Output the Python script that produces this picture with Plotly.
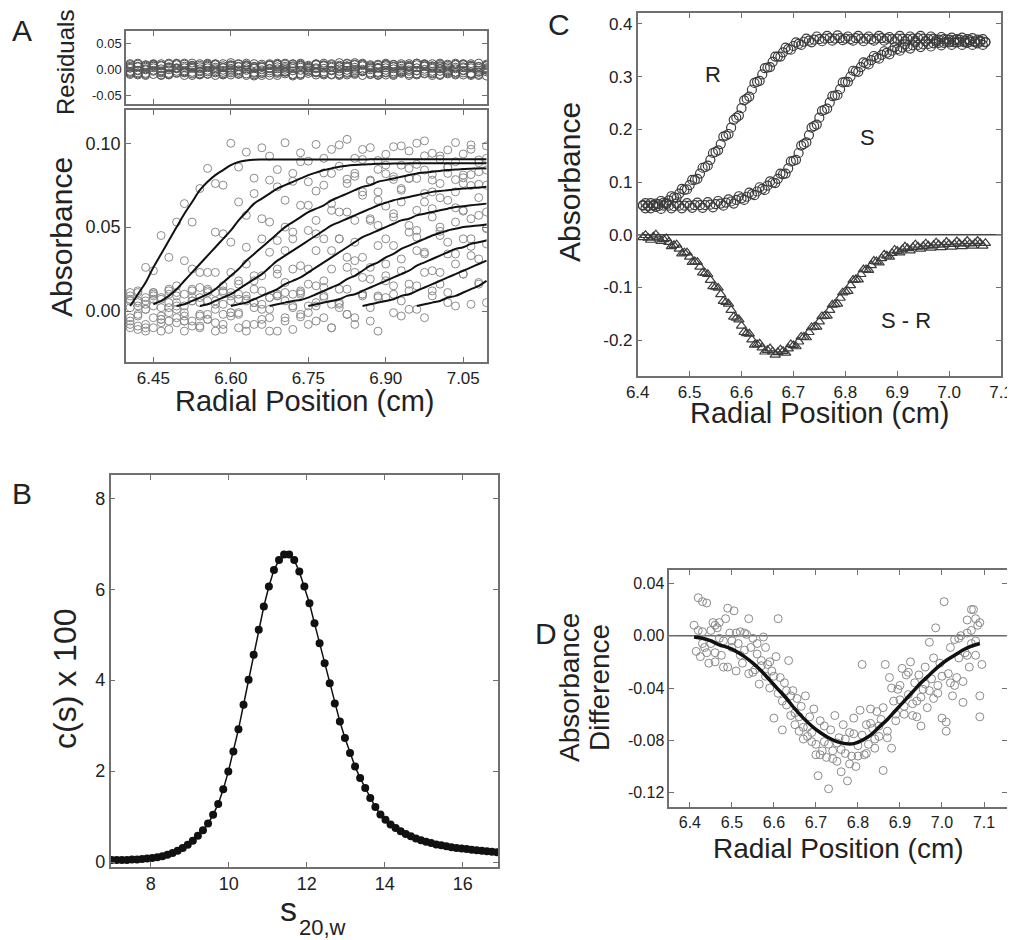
import plotly.graph_objects as go

FONT = "Liberation Sans, Arial, Helvetica, sans-serif"
INK = "#222222"
AXC = "#707070"

# ---------------- Panel A: sedimentation velocity scans ----------------
A_X = [6.405, 6.420, 6.435, 6.450, 6.465, 6.480, 6.495, 6.510, 6.525, 6.540,
       6.555, 6.570, 6.585, 6.600, 6.615, 6.630, 6.645, 6.660, 6.675, 6.690,
       6.705, 6.720, 6.735, 6.750, 6.765, 6.780, 6.795, 6.810, 6.825, 6.840,
       6.855, 6.870, 6.885, 6.900, 6.915, 6.930, 6.945, 6.960, 6.975, 6.990,
       7.005, 7.020, 7.035, 7.050, 7.065, 7.080, 7.095]

A_FIT_1 = [0.003, 0.010, 0.017, 0.026, 0.034, 0.042, 0.050, 0.058, 0.065, 0.072,
           0.077, 0.081, 0.084, 0.087, 0.0888, 0.0897, 0.0902, 0.0903, 0.0903, 0.0903,
           0.0903, 0.0903, 0.0903, 0.0903, 0.0903, 0.0903, 0.0903, 0.0903, 0.0903, 0.0903,
           0.0903, 0.0904, 0.0904, 0.0904, 0.0904, 0.0904, 0.0904, 0.0904, 0.0904, 0.0904,
           0.0904, 0.0904, 0.0904, 0.0904, 0.0904, 0.0904, 0.0904]
A_FIT_2 = [0.000, 0.001, 0.002, 0.004, 0.006, 0.009, 0.013, 0.018, 0.023, 0.028,
           0.033, 0.038, 0.043, 0.048, 0.054, 0.059, 0.064, 0.067, 0.070, 0.073,
           0.075, 0.077, 0.079, 0.081, 0.0825, 0.084, 0.085, 0.086, 0.0866, 0.087,
           0.0873, 0.0875, 0.0877, 0.0878, 0.0879, 0.0879, 0.088, 0.088, 0.088, 0.088,
           0.088, 0.088, 0.088, 0.088, 0.088, 0.088, 0.088]
A_FIT_3 = [0.000, 0.000, 0.000, 0.001, 0.001, 0.002, 0.003, 0.004, 0.006, 0.008,
           0.010, 0.013, 0.017, 0.021, 0.025, 0.030, 0.034, 0.038, 0.042, 0.046,
           0.050, 0.053, 0.056, 0.059, 0.061, 0.063, 0.066, 0.068, 0.070, 0.072,
           0.074, 0.075, 0.077, 0.078, 0.079, 0.080, 0.081, 0.082, 0.0825, 0.083,
           0.0835, 0.084, 0.0843, 0.0846, 0.0848, 0.085, 0.085]
A_FIT_4 = [0.000, 0.000, 0.000, 0.000, 0.000, 0.000, 0.001, 0.001, 0.002, 0.003,
           0.004, 0.006, 0.008, 0.010, 0.013, 0.016, 0.019, 0.022, 0.026, 0.030,
           0.033, 0.036, 0.039, 0.042, 0.045, 0.048, 0.051, 0.053, 0.055, 0.057,
           0.059, 0.061, 0.063, 0.0645, 0.066, 0.067, 0.068, 0.069, 0.070, 0.071,
           0.0715, 0.072, 0.0725, 0.073, 0.0733, 0.0736, 0.074]
A_FIT_5 = [0.000, 0.000, 0.000, 0.000, 0.000, 0.000, 0.000, 0.000, 0.001, 0.001,
           0.001, 0.002, 0.002, 0.003, 0.004, 0.005, 0.007, 0.009, 0.011, 0.013,
           0.016, 0.018, 0.020, 0.023, 0.026, 0.029, 0.032, 0.035, 0.038, 0.041,
           0.044, 0.046, 0.048, 0.050, 0.052, 0.054, 0.055, 0.057, 0.058, 0.059,
           0.060, 0.061, 0.062, 0.0625, 0.063, 0.0635, 0.064]
A_FIT_6 = [0.000, 0.000, 0.000, 0.000, 0.000, 0.000, 0.000, 0.000, 0.000, 0.000,
           0.000, 0.000, 0.001, 0.001, 0.001, 0.001, 0.002, 0.002, 0.003, 0.004,
           0.005, 0.006, 0.0065, 0.008, 0.010, 0.012, 0.014, 0.016, 0.019, 0.021,
           0.024, 0.027, 0.029, 0.032, 0.034, 0.037, 0.039, 0.041, 0.043, 0.045,
           0.0465, 0.048, 0.049, 0.050, 0.0505, 0.051, 0.0515]
A_FIT_7 = [0.000, 0.000, 0.000, 0.000, 0.000, 0.000, 0.000, 0.000, 0.000, 0.000,
           0.000, 0.000, 0.000, 0.000, 0.000, 0.000, 0.000, 0.000, 0.000, 0.000,
           0.000, 0.000, 0.002, 0.003, 0.004, 0.005, 0.006, 0.007, 0.009, 0.010,
           0.012, 0.014, 0.016, 0.018, 0.020, 0.022, 0.024, 0.027, 0.029, 0.031,
           0.033, 0.035, 0.037, 0.038, 0.040, 0.041, 0.042]
A_FIT_8 = [0.000, 0.000, 0.000, 0.000, 0.000, 0.000, 0.000, 0.000, 0.000, 0.000,
           0.000, 0.000, 0.000, 0.000, 0.000, 0.000, 0.000, 0.000, 0.000, 0.000,
           0.000, 0.000, 0.000, 0.000, 0.000, 0.000, 0.001, 0.001, 0.002, 0.002,
           0.003, 0.004, 0.005, 0.006, 0.007, 0.009, 0.010, 0.012, 0.014, 0.016,
           0.018, 0.020, 0.022, 0.024, 0.026, 0.028, 0.030]
A_FIT_9 = [0.000, 0.000, 0.000, 0.000, 0.000, 0.000, 0.000, 0.000, 0.000, 0.000,
           0.000, 0.000, 0.000, 0.000, 0.000, 0.000, 0.000, 0.000, 0.000, 0.000,
           0.000, 0.000, 0.000, 0.000, 0.000, 0.000, 0.000, 0.000, 0.000, 0.000,
           0.000, 0.000, 0.000, 0.001, 0.001, 0.002, 0.002, 0.003, 0.004, 0.005,
           0.006, 0.008, 0.009, 0.011, 0.013, 0.015, 0.018]

A_RES_1 = [0.004, -0.007, 0.009, -0.002, 0.011, -0.010, 0.003, 0.006, -0.012, 0.001,
           0.008, -0.005, -0.009, 0.013, -0.003, 0.005, -0.011, 0.007, 0.002, -0.006,
           0.010, -0.013, 0.004, -0.001, 0.009, -0.008, 0.006, -0.004, 0.012, -0.010,
           0.000, 0.007, -0.006, 0.003, -0.012, 0.008, 0.005, -0.003, 0.011, -0.009,
           0.002, -0.005, 0.010, -0.011, 0.006, -0.002, 0.008]
A_RES_2 = [-0.006, 0.010, -0.001, 0.007, -0.011, 0.004, -0.008, 0.012, 0.002, -0.005,
           -0.010, 0.009, 0.003, -0.007, 0.011, -0.002, 0.006, -0.012, 0.008, 0.001,
           -0.009, 0.005, 0.010, -0.004, -0.011, 0.007, -0.003, 0.013, -0.008, 0.004,
           0.009, -0.010, 0.002, -0.006, 0.010, -0.001, -0.009, 0.012, -0.004, 0.006,
           -0.012, 0.008, 0.001, -0.007, 0.011, -0.005, 0.003]
A_RES_3 = [0.009, -0.003, -0.010, 0.006, 0.001, -0.008, 0.012, -0.005, 0.007, -0.011,
           0.003, 0.010, -0.006, 0.002, -0.009, 0.008, -0.013, 0.005, 0.011, -0.004,
           0.000, -0.010, 0.007, 0.004, -0.007, 0.012, -0.002, -0.009, 0.006, 0.010,
           -0.005, 0.003, -0.011, 0.009, 0.001, -0.008, 0.004, -0.003, 0.010, -0.012,
           0.007, 0.002, -0.006, 0.009, -0.010, 0.005, -0.001]
A_RES_4 = [-0.010, 0.005, 0.008, -0.004, -0.012, 0.010, 0.002, -0.007, 0.004, 0.011,
           -0.009, -0.002, 0.007, -0.011, 0.005, 0.012, -0.006, -0.001, 0.009, -0.008,
           0.003, 0.011, -0.012, 0.006, 0.001, -0.005, 0.009, -0.010, 0.004, -0.003,
           0.012, -0.007, 0.008, -0.002, -0.010, 0.006, 0.011, -0.009, 0.000, 0.007,
           -0.004, 0.010, -0.011, 0.003, 0.008, -0.006, 0.001]
A_RES_5 = [0.002, -0.009, 0.006, 0.011, -0.005, -0.001, 0.009, -0.012, 0.005, -0.003,
           0.010, 0.004, -0.010, 0.008, -0.006, 0.001, 0.011, -0.008, -0.003, 0.012,
           -0.005, 0.007, -0.009, 0.002, 0.010, -0.011, 0.004, 0.008, -0.006, 0.000,
           -0.012, 0.009, 0.003, -0.007, 0.006, 0.011, -0.004, -0.009, 0.007, 0.002,
           -0.010, 0.005, 0.009, -0.003, -0.008, 0.012, -0.005]
A_RES_6 = [-0.004, 0.012, -0.008, 0.003, 0.007, -0.011, 0.001, 0.010, -0.006, 0.008,
           -0.002, -0.012, 0.011, -0.004, 0.006, -0.009, 0.003, 0.010, -0.007, 0.005,
           0.012, -0.003, -0.010, 0.008, -0.005, 0.002, 0.011, -0.012, 0.007, 0.009,
           -0.004, -0.001, 0.010, -0.011, 0.005, -0.006, 0.008, 0.003, -0.009, 0.011,
           0.001, -0.007, 0.004, 0.010, -0.012, 0.006, -0.002]
A_RES_7 = [0.011, -0.002, 0.004, -0.010, 0.008, 0.005, -0.007, -0.003, 0.012, -0.009,
           0.006, 0.001, -0.011, 0.009, -0.001, 0.007, -0.008, 0.004, -0.012, 0.010,
           -0.006, 0.002, 0.008, -0.004, 0.011, -0.009, -0.002, 0.006, -0.011, 0.013,
           -0.003, 0.005, -0.008, 0.010, -0.005, 0.002, -0.012, 0.009, 0.006, -0.007,
           0.012, -0.001, -0.009, 0.005, 0.003, -0.010, 0.007]
A_RES_8 = [-0.008, 0.006, -0.012, 0.010, -0.003, 0.002, 0.011, -0.006, -0.009, 0.005,
           0.012, -0.007, 0.004, -0.001, -0.010, 0.009, 0.002, -0.005, 0.008, -0.012,
           0.006, 0.010, -0.002, -0.008, 0.003, 0.009, -0.011, 0.001, 0.011, -0.006,
           0.007, -0.010, 0.004, 0.012, -0.008, -0.003, 0.006, -0.011, 0.009, -0.004,
           0.005, -0.009, 0.012, -0.002, 0.007, -0.012, 0.010]
A_RES_9 = [0.006, -0.011, 0.001, 0.009, -0.007, 0.012, -0.004, 0.003, 0.008, -0.010,
           -0.005, 0.011, -0.002, 0.006, 0.010, -0.012, 0.005, -0.008, 0.001, 0.009,
           -0.004, -0.011, 0.012, 0.003, -0.006, 0.008, -0.010, 0.005, -0.002, -0.008,
           0.010, 0.002, -0.012, 0.007, 0.009, -0.005, -0.001, 0.012, -0.008, 0.004,
           0.010, -0.003, -0.006, 0.011, -0.009, 0.002, -0.013]

A_FITS = [A_FIT_1, A_FIT_2, A_FIT_3, A_FIT_4, A_FIT_5, A_FIT_6, A_FIT_7, A_FIT_8, A_FIT_9]
A_RESIDS = [A_RES_1, A_RES_2, A_RES_3, A_RES_4, A_RES_5, A_RES_6, A_RES_7, A_RES_8, A_RES_9]

A_XTICKS = [6.45, 6.60, 6.75, 6.90, 7.05]
A_XTICKTEXT = ["6.45", "6.60", "6.75", "6.90", "7.05"]
A_YTICKS = [0.00, 0.05, 0.10]
A_YTICKTEXT = ["0.00", "0.05", "0.10"]
A_RTICKS = [-0.05, 0.00, 0.05]
A_RTICKTEXT = ["-0.05", "0.00", "0.05"]

# ---------------- Panel C: R, S and S - R boundaries ----------------
C_X = [6.41, 6.42, 6.43, 6.44, 6.45, 6.46, 6.47, 6.48, 6.49, 6.50,
       6.51, 6.52, 6.53, 6.54, 6.55, 6.56, 6.57, 6.58, 6.59, 6.60,
       6.61, 6.62, 6.63, 6.64, 6.65, 6.66, 6.67, 6.68, 6.69, 6.70,
       6.71, 6.72, 6.73, 6.74, 6.75, 6.76, 6.77, 6.78, 6.79, 6.80,
       6.81, 6.82, 6.83, 6.84, 6.85, 6.86, 6.87, 6.88, 6.89, 6.90,
       6.91, 6.92, 6.93, 6.94, 6.95, 6.96, 6.97, 6.98, 6.99, 7.00,
       7.01, 7.02, 7.03, 7.04, 7.05, 7.06, 7.07]
C_R = [0.055, 0.054, 0.056, 0.058, 0.061, 0.065, 0.071, 0.078, 0.085, 0.094,
       0.104, 0.116, 0.128, 0.142, 0.157, 0.172, 0.188, 0.203, 0.222, 0.240,
       0.258, 0.275, 0.290, 0.304, 0.317, 0.328, 0.338, 0.346, 0.352, 0.358,
       0.362, 0.366, 0.368, 0.370, 0.371, 0.372, 0.373, 0.372, 0.373, 0.372,
       0.371, 0.373, 0.372, 0.372, 0.371, 0.372, 0.373, 0.372, 0.371, 0.372,
       0.372, 0.371, 0.372, 0.373, 0.372, 0.371, 0.372, 0.370, 0.371, 0.370,
       0.369, 0.370, 0.368, 0.369, 0.367, 0.368, 0.366]
C_S = [0.056, 0.055, 0.055, 0.054, 0.055, 0.055, 0.054, 0.055, 0.055, 0.055,
       0.056, 0.056, 0.056, 0.057, 0.058, 0.059, 0.061, 0.063, 0.066, 0.069,
       0.072, 0.077, 0.082, 0.087, 0.093, 0.099, 0.106, 0.115, 0.126, 0.140,
       0.155, 0.172, 0.189, 0.206, 0.222, 0.237, 0.251, 0.264, 0.276, 0.290,
       0.300, 0.310, 0.318, 0.325, 0.331, 0.336, 0.341, 0.345, 0.349, 0.352,
       0.355, 0.357, 0.359, 0.360, 0.361, 0.362, 0.363, 0.364, 0.364, 0.365,
       0.365, 0.366, 0.365, 0.366, 0.365, 0.366, 0.365]
C_SR = [-0.005, -0.006, -0.004, -0.006, -0.009, -0.014, -0.020, -0.027, -0.034, -0.042,
        -0.051, -0.061, -0.073, -0.086, -0.099, -0.113, -0.128, -0.143, -0.158, -0.173,
        -0.187, -0.199, -0.208, -0.214, -0.219, -0.222, -0.223, -0.221, -0.216, -0.210,
        -0.203, -0.194, -0.185, -0.175, -0.165, -0.154, -0.143, -0.132, -0.120, -0.108,
        -0.096, -0.085, -0.075, -0.066, -0.058, -0.051, -0.045, -0.040, -0.035, -0.031,
        -0.028, -0.026, -0.024, -0.023, -0.022, -0.021, -0.020, -0.019, -0.019, -0.018,
        -0.018, -0.017, -0.017, -0.017, -0.016, -0.016, -0.016]
# readings between the points above
C_X_MID = [6.415, 6.425, 6.435, 6.445, 6.455, 6.465, 6.475, 6.485, 6.495, 6.505,
           6.515, 6.525, 6.535, 6.545, 6.555, 6.565, 6.575, 6.585, 6.595, 6.605,
           6.615, 6.625, 6.635, 6.645, 6.655, 6.665, 6.675, 6.685, 6.695, 6.705,
           6.715, 6.725, 6.735, 6.745, 6.755, 6.765, 6.775, 6.785, 6.795, 6.805,
           6.815, 6.825, 6.835, 6.845, 6.855, 6.865, 6.875, 6.885, 6.895, 6.905,
           6.915, 6.925, 6.935, 6.945, 6.955, 6.965, 6.975, 6.985, 6.995, 7.005,
           7.015, 7.025, 7.035, 7.045, 7.055, 7.065]
C_R_MID = [0.050, 0.060, 0.053, 0.064, 0.058, 0.073, 0.070, 0.087, 0.086, 0.104,
           0.106, 0.127, 0.131, 0.155, 0.160, 0.186, 0.191, 0.218, 0.226, 0.255,
           0.262, 0.288, 0.292, 0.316, 0.318, 0.338, 0.338, 0.355, 0.351, 0.365,
           0.360, 0.372, 0.365, 0.376, 0.367, 0.377, 0.368, 0.378, 0.369, 0.376,
           0.368, 0.377, 0.367, 0.376, 0.368, 0.377, 0.368, 0.375, 0.367, 0.377,
           0.367, 0.376, 0.368, 0.377, 0.367, 0.376, 0.366, 0.375, 0.366, 0.374,
           0.365, 0.374, 0.364, 0.373, 0.363, 0.371]
C_S_MID = [0.060, 0.050, 0.059, 0.049, 0.060, 0.050, 0.059, 0.050, 0.060, 0.051,
           0.061, 0.051, 0.062, 0.052, 0.064, 0.055, 0.067, 0.059, 0.073, 0.066,
           0.080, 0.075, 0.090, 0.085, 0.101, 0.098, 0.116, 0.116, 0.139, 0.142,
           0.169, 0.175, 0.203, 0.209, 0.235, 0.239, 0.263, 0.265, 0.289, 0.290,
           0.311, 0.309, 0.327, 0.323, 0.339, 0.334, 0.348, 0.342, 0.356, 0.349,
           0.361, 0.353, 0.365, 0.356, 0.367, 0.357, 0.369, 0.359, 0.370, 0.360,
           0.371, 0.360, 0.371, 0.360, 0.370, 0.360]
C_SR_MID = [-0.001, -0.010, 0.000, -0.012, -0.007, -0.022, -0.019, -0.036, -0.034, -0.052,
            -0.052, -0.072, -0.075, -0.098, -0.101, -0.126, -0.131, -0.156, -0.161, -0.185,
            -0.188, -0.209, -0.207, -0.222, -0.216, -0.228, -0.218, -0.224, -0.208, -0.212,
            -0.194, -0.195, -0.176, -0.175, -0.155, -0.154, -0.133, -0.131, -0.110, -0.107,
            -0.086, -0.085, -0.066, -0.067, -0.050, -0.053, -0.038, -0.042, -0.029, -0.034,
            -0.023, -0.030, -0.019, -0.027, -0.017, -0.025, -0.015, -0.024, -0.014, -0.023,
            -0.013, -0.022, -0.012, -0.021, -0.012, -0.021]
C_XTICKS = [6.4, 6.5, 6.6, 6.7, 6.8, 6.9, 7.0, 7.1]
C_XTICKTEXT = ["6.4", "6.5", "6.6", "6.7", "6.8", "6.9", "7.0", "7.1"]
C_YTICKS = [-0.2, -0.1, 0.0, 0.1, 0.2, 0.3, 0.4]
C_YTICKTEXT = ["-0.2", "-0.1", "0.0", "0.1", "0.2", "0.3", "0.4"]

# ---------------- Panel B: c(s) distribution ----------------
B_S = [7.00, 7.13, 7.26, 7.39, 7.52, 7.65, 7.78, 7.91, 8.04, 8.17,
       8.30, 8.43, 8.56, 8.69, 8.82, 8.95, 9.08, 9.21, 9.34, 9.47,
       9.60, 9.73, 9.86, 9.99, 10.12, 10.25, 10.38, 10.51, 10.64, 10.77,
       10.90, 11.03, 11.16, 11.29, 11.42, 11.55, 11.68, 11.81, 11.94, 12.07,
       12.20, 12.33, 12.46, 12.59, 12.72, 12.85, 12.98, 13.11, 13.24, 13.37,
       13.50, 13.63, 13.76, 13.89, 14.02, 14.15, 14.28, 14.41, 14.54, 14.67,
       14.80, 14.93, 15.06, 15.19, 15.32, 15.45, 15.58, 15.71, 15.84, 15.97,
       16.10, 16.23, 16.36, 16.49, 16.62, 16.75, 16.88, 17.01]
B_CS = [0.05, 0.05, 0.05, 0.05, 0.06, 0.06, 0.07, 0.08, 0.09, 0.11,
        0.13, 0.16, 0.20, 0.25, 0.31, 0.38, 0.47, 0.58, 0.70, 0.85,
        1.04, 1.28, 1.60, 1.99, 2.43, 2.92, 3.46, 4.01, 4.56, 5.11,
        5.62, 6.06, 6.42, 6.64, 6.76, 6.76, 6.64, 6.39, 6.06, 5.69,
        5.25, 4.81, 4.37, 3.93, 3.49, 3.09, 2.73, 2.40, 2.10, 1.85,
        1.63, 1.41, 1.21, 1.05, 0.93, 0.83, 0.75, 0.68, 0.62, 0.57,
        0.52, 0.48, 0.45, 0.42, 0.39, 0.37, 0.35, 0.33, 0.31, 0.30,
        0.29, 0.27, 0.26, 0.25, 0.24, 0.23, 0.22, 0.21]
B_XTICKS = [8, 10, 12, 14, 16]
B_XTICKTEXT = ["8", "10", "12", "14", "16"]
B_YTICKS = [0, 2, 4, 6, 8]
B_YTICKTEXT = ["0", "2", "4", "6", "8"]

# ---------------- Panel D: absorbance difference ----------------
D_X_GRID = [6.410, 6.415, 6.420, 6.425, 6.430, 6.435, 6.440, 6.445, 6.450, 6.455,
            6.460, 6.465, 6.470, 6.475, 6.480, 6.485, 6.490, 6.495, 6.500, 6.505,
            6.510, 6.515, 6.520, 6.525, 6.530, 6.535, 6.540, 6.545, 6.550, 6.555,
            6.560, 6.565, 6.570, 6.575, 6.580, 6.585, 6.590, 6.595, 6.600, 6.605,
            6.610, 6.615, 6.620, 6.625, 6.630, 6.635, 6.640, 6.645, 6.650, 6.655,
            6.660, 6.665, 6.670, 6.675, 6.680, 6.685, 6.690, 6.695, 6.700, 6.705,
            6.710, 6.715, 6.720, 6.725, 6.730, 6.735, 6.740, 6.745, 6.750, 6.755,
            6.760, 6.765, 6.770, 6.775, 6.780, 6.785, 6.790, 6.795, 6.800, 6.805,
            6.810, 6.815, 6.820, 6.825, 6.830, 6.835, 6.840, 6.845, 6.850, 6.855,
            6.860, 6.865, 6.870, 6.875, 6.880, 6.885, 6.890, 6.895, 6.900, 6.905,
            6.910, 6.915, 6.920, 6.925, 6.930, 6.935, 6.940, 6.945, 6.950, 6.955,
            6.960, 6.965, 6.970, 6.975, 6.980, 6.985, 6.990, 6.995, 7.000, 7.005,
            7.010, 7.015, 7.020, 7.025, 7.030, 7.035, 7.040, 7.045, 7.050, 7.055,
            7.060, 7.065, 7.070, 7.075, 7.080, 7.085, 7.090, 7.095]
D_Y_GRID = [0.008, -0.012, 0.004, -0.016, 0.003, -0.009, 0.025, -0.021, -0.006, 0.010,
            -0.013, 0.006, -0.002, -0.015, -0.004, 0.013, -0.024, 0.002, -0.009, 0.019,
            -0.027, -0.006, 0.003, -0.021, -0.011, 0.001, -0.029, -0.009, -0.002, -0.026,
            -0.014, -0.037, -0.019, -0.001, -0.031, -0.022, -0.040, -0.027, -0.063, -0.016,
            -0.044, -0.032, -0.072, -0.036, -0.053, -0.019, -0.061, -0.042, -0.068, -0.048,
            -0.073, -0.054, -0.070, -0.046, -0.077, -0.062, -0.081, -0.056, -0.091, -0.107,
            -0.065, -0.088, -0.081, -0.093, -0.117, -0.072, -0.088, -0.061, -0.096, -0.078,
            -0.104, -0.068, -0.090, -0.111, -0.074, -0.092, -0.063, -0.100, -0.084, -0.057,
            -0.022, -0.091, -0.068, -0.083, -0.056, -0.071, -0.086, -0.058, -0.077, -0.064,
            -0.103, -0.022, -0.073, -0.032, -0.086, -0.050, -0.065, -0.041, -0.049, -0.025,
            -0.060, -0.030, -0.045, -0.020, -0.061, -0.036, -0.050, -0.030, -0.069, -0.041,
            -0.024, -0.055, -0.005, -0.033, -0.048, 0.006, -0.038, -0.021, -0.063, 0.026,
            -0.073, -0.029, -0.009, -0.046, -0.003, -0.032, -0.017, 0.000, -0.051, -0.013,
            0.012, -0.024, 0.004, 0.020, -0.015, 0.008, -0.062, -0.022]
D_X_EXTRA = [6.42, 6.43, 6.43, 6.44, 6.45, 6.46, 6.46, 6.47, 6.48, 6.49,
             6.50, 6.51, 6.52, 6.53, 6.54, 6.55, 6.56, 6.57, 6.58, 6.59,
             6.60, 6.61, 6.62, 6.63, 6.64, 6.65, 6.66, 6.67, 6.68, 6.69,
             6.70, 6.71, 6.72, 6.73, 6.74, 6.75, 6.76, 6.77, 6.78, 6.79,
             6.80, 6.81, 6.82, 6.83, 6.84, 6.85, 6.86, 6.87, 6.88, 6.89,
             6.90, 6.91, 6.92, 6.93, 6.94, 6.95, 6.96, 6.97, 6.98, 6.99,
             7.00, 7.01, 7.02, 7.03, 7.04, 7.05, 7.06, 7.07, 7.08, 7.09,
             7.08, 7.09, 7.06, 7.07]
D_Y_EXTRA = [0.029, -0.006, 0.026, -0.013, 0.004, 0.008, -0.020, 0.010, -0.024, 0.021,
             -0.004, 0.002, -0.015, 0.002, 0.013, -0.028, -0.006, -0.023, -0.009, -0.020,
             -0.031, 0.013, -0.050, -0.042, -0.046, -0.059, -0.062, -0.079, -0.070, -0.074,
             -0.083, -0.091, -0.069, -0.083, -0.094, -0.082, -0.087, -0.079, -0.098, -0.075,
             -0.092, -0.076, -0.090, -0.067, -0.079, -0.069, -0.055, -0.078, -0.040, -0.060,
             -0.038, -0.054, -0.028, -0.052, -0.062, -0.047, -0.037, -0.042, -0.017, -0.044,
             -0.031, -0.066, -0.036, -0.038, -0.002, -0.035, 0.002, -0.006, 0.013, 0.010,
             -0.004, -0.046, -0.015, 0.020]
D_FIT_X = [6.41, 6.43, 6.45, 6.47, 6.49, 6.51, 6.53, 6.55, 6.57, 6.59,
           6.61, 6.63, 6.65, 6.67, 6.69, 6.71, 6.73, 6.75, 6.77, 6.79,
           6.81, 6.83, 6.85, 6.87, 6.89, 6.91, 6.93, 6.95, 6.97, 6.99,
           7.01, 7.03, 7.05, 7.07, 7.09]
D_FIT_Y = [-0.001, -0.002, -0.004, -0.007, -0.009, -0.012, -0.016, -0.021, -0.027, -0.034,
           -0.041, -0.048, -0.056, -0.063, -0.069, -0.074, -0.078, -0.081, -0.0825, -0.0825,
           -0.080, -0.076, -0.070, -0.064, -0.057, -0.050, -0.043, -0.036, -0.030, -0.024,
           -0.019, -0.015, -0.011, -0.008, -0.006]
D_XTICKS = [6.4, 6.5, 6.6, 6.7, 6.8, 6.9, 7.0, 7.1]
D_XTICKTEXT = ["6.4", "6.5", "6.6", "6.7", "6.8", "6.9", "7.0", "7.1"]
D_YTICKS = [-0.12, -0.08, -0.04, 0.00, 0.04]
D_YTICKTEXT = ["-0.12", "-0.08", "-0.04", "0.00", "0.04"]

for f, r in zip(A_FITS, A_RESIDS):
    assert len(f) == len(A_X) and len(r) == len(A_X)
assert len(C_R) == len(C_X) == len(C_S) == len(C_SR)
assert len(C_X_MID) == len(C_R_MID) == len(C_S_MID) == len(C_SR_MID)
assert len(B_S) == len(B_CS)
assert len(D_X_GRID) == len(D_Y_GRID) and len(D_X_EXTRA) == len(D_Y_EXTRA)
assert len(D_FIT_X) == len(D_FIT_Y)

# ---- page geometry: the page body adds an 8 px margin around the figure ----
PAGE_OFF = 8
FIG_W, FIG_H = 1007, 932


def fx(p):
    return (p - PAGE_OFF) / FIG_W


def fy(p):
    return 1 - (p - PAGE_OFF) / FIG_H


def dom_x(left, right):
    return [fx(left), fx(right)]


def dom_y(top, bottom):
    return [fy(bottom), fy(top)]


fig = go.Figure()

# Panel A residuals (top strip) and data
for fit, res in zip(A_FITS, A_RESIDS):
    fig.add_trace(go.Scatter(x=A_X, y=res, mode="markers", xaxis="x", yaxis="y",
                             marker=dict(symbol="circle-open", size=8,
                                         color="#555555", line=dict(width=1))))
for fit, res in zip(A_FITS, A_RESIDS):
    obs = [f + r for f, r in zip(fit, res)]
    fig.add_trace(go.Scatter(x=A_X, y=obs, mode="markers", xaxis="x2", yaxis="y2",
                             marker=dict(symbol="circle-open", size=8,
                                         color="#8c8c8c", line=dict(width=1))))
for fit in A_FITS:
    yline = [v if v >= 0.003 else None for v in fit]
    fig.add_trace(go.Scatter(x=A_X, y=yline, mode="lines", xaxis="x2", yaxis="y2",
                             line=dict(color="#111111", width=2, shape="spline"),
                             connectgaps=False))

# Panel C
C_MARK = dict(symbol="circle-open", size=9, color="#3c3c3c", line=dict(width=1.2))
C_TRI = dict(symbol="triangle-up-open", size=9, color="#3c3c3c", line=dict(width=1.2))
for xs, ys, mk in [(C_X, C_R, C_MARK), (C_X_MID, C_R_MID, C_MARK),
                   (C_X, C_S, C_MARK), (C_X_MID, C_S_MID, C_MARK),
                   (C_X, C_SR, C_TRI), (C_X_MID, C_SR_MID, C_TRI)]:
    fig.add_trace(go.Scatter(x=xs, y=ys, mode="markers", xaxis="x3", yaxis="y3",
                             marker=mk))

# Panel B
fig.add_trace(go.Scatter(x=B_S, y=B_CS, mode="lines+markers", xaxis="x4", yaxis="y4",
                         line=dict(color="#111111", width=1.5),
                         marker=dict(symbol="circle", size=8, color="#111111")))

# Panel D
fig.add_trace(go.Scatter(x=D_X_GRID + D_X_EXTRA, y=D_Y_GRID + D_Y_EXTRA, mode="markers",
                         xaxis="x5", yaxis="y5",
                         marker=dict(symbol="circle-open", size=8, color="#8a8a8a",
                                     line=dict(width=1))))
fig.add_trace(go.Scatter(x=D_FIT_X, y=D_FIT_Y, mode="lines", xaxis="x5", yaxis="y5",
                         line=dict(color="#111111", width=3.5, shape="spline")))


def axis(domain, rng, tickvals, ticktext, anchor, show=True, fsize=18):
    return dict(domain=domain, range=rng, anchor=anchor, tickvals=tickvals,
                ticktext=ticktext, showticklabels=show, ticks="inside", ticklen=5,
                tickwidth=1.2, tickcolor=AXC, showline=True, linecolor=AXC,
                linewidth=1.5, mirror="ticks", showgrid=False, zeroline=False,
                automargin=False,
                tickfont=dict(family=FONT, size=fsize, color=INK), fixedrange=True)


AX_A = dom_x(126, 487)
fig.update_layout(
    template="none",
    width=FIG_W, height=FIG_H,
    margin=dict(l=0, r=0, t=0, b=0, pad=0, autoexpand=False),
    paper_bgcolor="white", plot_bgcolor="white", showlegend=False,
    font=dict(family=FONT, color=INK),
    xaxis=axis(AX_A, [6.397, 7.096], A_XTICKS, A_XTICKTEXT, "y", show=False),
    yaxis=axis(dom_y(31, 104), [-0.067, 0.074], A_RTICKS, A_RTICKTEXT, "x", fsize=13),
    xaxis2=axis(AX_A, [6.397, 7.096], A_XTICKS, A_XTICKTEXT, "y2", fsize=17),
    yaxis2=axis(dom_y(110, 362), [-0.0304, 0.1198], A_YTICKS, A_YTICKTEXT, "x2"),
    xaxis3=axis(dom_x(637.7, 1001), [6.4, 7.1], C_XTICKS, C_XTICKTEXT, "y3", fsize=17),
    yaxis3=axis(dom_y(13.3, 376), [-0.268, 0.42], C_YTICKS, C_YTICKTEXT, "x3", fsize=17),
    xaxis4=axis(dom_x(110.7, 498), [6.974, 16.905], B_XTICKS, B_XTICKTEXT, "y4"),
    yaxis4=axis(dom_y(475, 866.7), [-0.1, 8.51], B_YTICKS, B_YTICKTEXT, "x4"),
    xaxis5=axis(dom_x(669.3, 1006.7), [6.351, 7.154], D_XTICKS, D_XTICKTEXT, "y5", fsize=16),
    yaxis5=axis(dom_y(570, 806.7), [-0.1307, 0.0502], D_YTICKS, D_YTICKTEXT, "x5", fsize=16),
)

fig.add_shape(type="line", xref="x3 domain", yref="y3", x0=0, x1=1, y0=0, y1=0,
              line=dict(color="#444444", width=1.5), layer="below")
fig.add_shape(type="line", xref="x5 domain", yref="y5", x0=0, x1=1, y0=0, y1=0,
              line=dict(color="#666666", width=1.5), layer="below")


def label(text, px, py, size, angle=0):
    fig.add_annotation(text=text, x=fx(px), y=fy(py), xref="paper", yref="paper",
                       showarrow=False, textangle=angle, xanchor="center",
                       yanchor="middle", font=dict(family=FONT, size=size, color=INK))


def data_label(text, x, y, size):
    fig.add_annotation(text=text, x=x, y=y, xref="x3", yref="y3", showarrow=False,
                       xanchor="center", yanchor="middle",
                       font=dict(family=FONT, size=size, color=INK))


label("A", 22, 30, 30)
label("Residuals", 65, 63, 24, -90)
label("Absorbance", 61, 237, 30, -90)
label("Radial Position (cm)", 304, 401, 29)
label("C", 559, 25, 30)
label("Absorbance", 569, 182, 30, -90)
label("Radial Position (cm)", 819, 413, 29)
data_label("R", 6.545, 0.303, 22)
data_label("S", 6.843, 0.185, 22)
data_label("S - R", 6.916, -0.163, 22)
label("B", 22, 493, 30)
label("c(s) x 100", 65, 679, 32, -90)
label("s", 288, 909, 34)
label("20,w", 322, 927, 22)
label("D", 546, 633, 30)
label("Absorbance", 569, 688, 28, -90)
label("Difference", 599, 688, 28, -90)
label("Radial Position (cm)", 838, 848, 28)

fig.write_html("out.html")
